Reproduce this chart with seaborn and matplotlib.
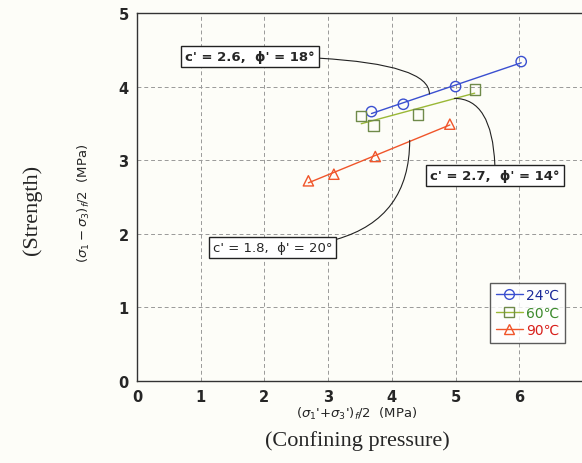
import numpy as np
import pandas as pd
import seaborn as sns
import matplotlib.pyplot as plt
from matplotlib.lines import Line2D

# data: p' = (s1'+s3')/2, q = (s1-s3)/2, MPa
temps = ['24℃', '60℃', '90℃']
p_24 = [3.68, 4.18, 5.00, 6.03]
q_24 = [3.66, 3.76, 4.00, 4.34]
p_60 = [3.52, 3.71, 4.41, 5.30]
q_60 = [3.60, 3.47, 3.62, 3.96]
p_90 = [2.69, 3.09, 3.74, 4.91]
q_90 = [2.72, 2.81, 3.05, 3.49]

labels = ["c' = 2.6,  ϕ' = 18°", "c' = 2.7,  ϕ' = 14°", "c' = 1.8,  ϕ' = 20°"]
xtick_labels = ['0', '1', '2', '3', '4', '5', '6', '']

colors = {'24℃': '#3a4fd0', '60℃': '#9ab836', '90℃': '#f0552a'}
edge = {'24℃': '#3a4fd0', '60℃': '#6f8a4a', '90℃': '#f0552a'}
text_col = {'24℃': '#1c2a9a', '60℃': '#3c8a2c', '90℃': '#d8201c'}
markers = {'24℃': 'o', '60℃': 's', '90℃': '^'}

df = pd.DataFrame({
    'p': p_24 + p_60 + p_90,
    'q': q_24 + q_60 + q_90,
    'temp': [temps[0]] * len(p_24) + [temps[1]] * len(p_60) + [temps[2]] * len(p_90),
})

sns.set_style('white')
plt.rcParams['font.family'] = ['DejaVu Sans']

fig = plt.figure(figsize=(5.82, 4.64), dpi=100)
fig.set_facecolor('#fdfdf8')
ax = fig.add_axes([137 / 582, 82 / 464, 446 / 582, 368 / 464])
ax.set_facecolor('#fdfdf8')

# fitted failure lines
for t in temps:
    sub = df[df['temp'] == t]
    k, b = np.polyfit(sub['p'], sub['q'], 1)
    xs = np.array([sub['p'].min(), sub['p'].max()])
    sns.lineplot(x=xs, y=k * xs + b, ax=ax, color=colors[t], lw=1.0, zorder=3)

for t in temps:
    sub = df[df['temp'] == t]
    ax.scatter(sub['p'], sub['q'], marker=markers[t], s=55, facecolors='none',
               edgecolors=edge[t], linewidths=1.0, zorder=4)

ax.set_xlim(0, 7)
ax.set_ylim(0, 5)
ax.set_xticks(range(0, 8))
ax.set_xticklabels(xtick_labels)
ax.set_yticks(range(0, 6))
ax.grid(True, color='#999999', ls=(0, (4, 3)), lw=0.7)
for s in ax.spines.values():
    s.set_color('#333333')
    s.set_linewidth(1.0)
ax.tick_params(length=0, labelsize=10.5, pad=6)
for lab in ax.get_xticklabels() + ax.get_yticklabels():
    lab.set_fontweight('bold')
ax.set_xlabel('')
ax.set_ylabel('')

# annotations
box = dict(boxstyle='square,pad=0.3', fc='white', ec='#222222', lw=1.0)
arc = dict(arrowstyle='-', lw=0.8, color='#222222', shrinkA=0, shrinkB=0)
ax.annotate(labels[0], xy=(4.59, 3.90), xytext=(1.77, 4.41), ha='center', va='center',
            fontsize=9.5, fontweight='bold', bbox=box,
            arrowprops=dict(arc, connectionstyle='angle3,angleA=0,angleB=90'))
ax.annotate(labels[1], xy=(4.98, 3.84), xytext=(5.62, 2.79), ha='center', va='center',
            fontsize=9.5, fontweight='bold', bbox=box,
            arrowprops=dict(arc, connectionstyle='angle3,angleA=90,angleB=0'))
ax.annotate(labels[2], xy=(4.28, 3.27), xytext=(2.13, 1.82), ha='center', va='center',
            fontsize=9.5, bbox=box,
            arrowprops=dict(arc, connectionstyle='angle3,angleA=0,angleB=90'))

handles = [Line2D([], [], color=colors[t], marker=markers[t], mfc='none', mec=edge[t],
                  ms=7, lw=1.0) for t in temps]
leg = ax.legend(handles, temps, loc='lower right', bbox_to_anchor=(0.975, 0.085),
                fontsize=10, frameon=True, fancybox=False, handlelength=2.0,
                handletextpad=0.2, borderpad=0.4, labelspacing=0.25)
leg.get_frame().set_edgecolor('#333333')
leg.get_frame().set_linewidth(1.0)
for txt, t in zip(leg.get_texts(), temps):
    txt.set_color(text_col[t])

# axis titles
fig.text(357 / 582, 1 - 414 / 464, r"$(\sigma_1$'$+\sigma_3$'$)_f/2$  (MPa)",
         ha='center', va='center', fontsize=9.5)
fig.text(357 / 582, 1 - 441 / 464, '(Confining pressure)', ha='center', va='center',
         fontsize=16, family='Liberation Serif')
fig.text(84 / 582, 1 - 203 / 464, r"$(\sigma_1-\sigma_3)_f/2$  (MPa)", ha='center',
         va='center', rotation=90, fontsize=9.5)
fig.text(32 / 582, 1 - 210 / 464, '(Strength)', ha='center', va='center', rotation=90,
         fontsize=16, family='Liberation Serif')

plt.savefig('out.png', dpi=100)
